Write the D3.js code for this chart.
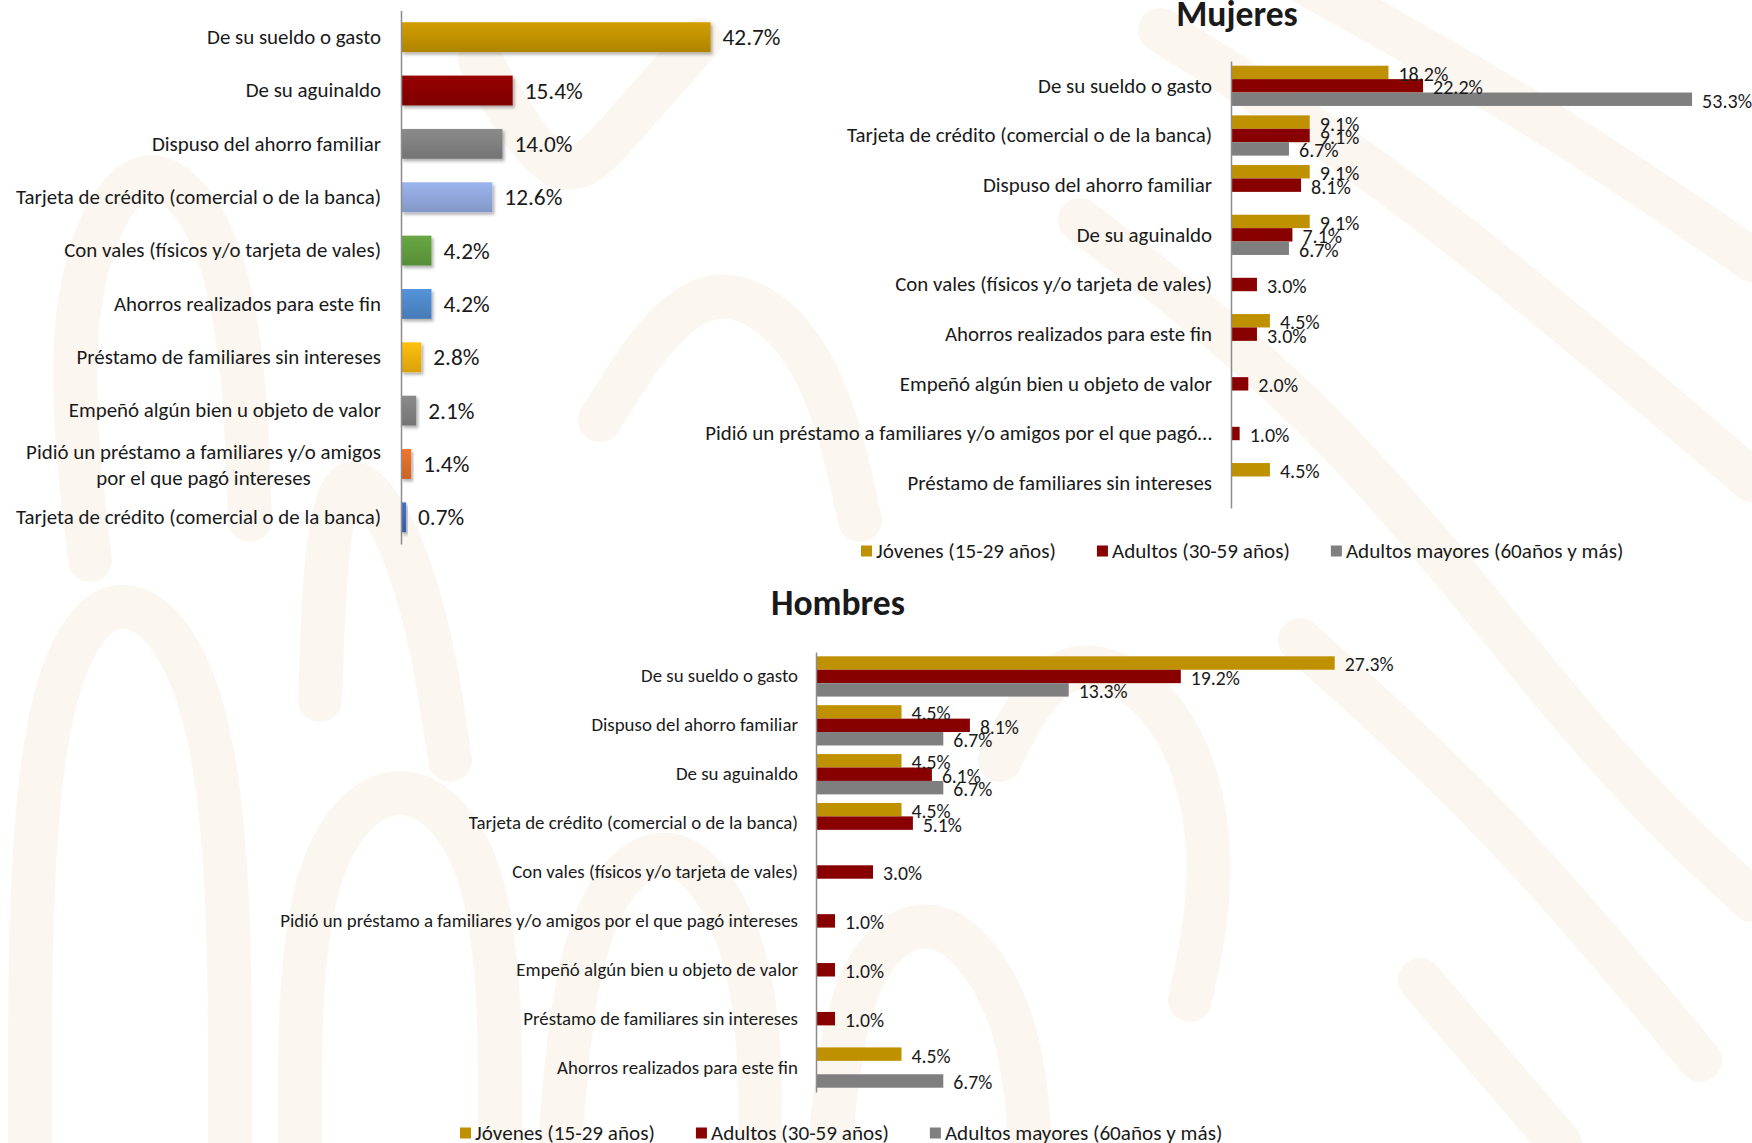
<!DOCTYPE html>
<html>
<head>
<meta charset="utf-8">
<script src="https://cdn.jsdelivr.net/npm/d3@7"></script>
<style>
  body { margin: 0; background: #fff; }
  text { font-family: Carlito, "Liberation Sans Narrow", Lato, sans-serif; fill: #1a1a1a; }
</style>
</head>
<body>
<div id="chart"></div>
<script>
const width = 1752;
const height = 1143;

// === Data ===
const totalCats = [
  "De su sueldo o gasto",
  "De su aguinaldo",
  "Dispuso del ahorro familiar",
  "Tarjeta de crédito (comercial o de la banca)",
  "Con vales (físicos y/o tarjeta de vales)",
  "Ahorros realizados para este fin",
  "Préstamo de familiares sin intereses",
  "Empeñó algún bien u objeto de valor",
  "Pidió un préstamo a familiares y/o amigos\npor el que pagó intereses",
  "Tarjeta de crédito (comercial o de la banca) "
];
const totalVals = [42.7, 15.4, 14.0, 12.6, 4.2, 4.2, 2.8, 2.1, 1.4, 0.7];
const totalColors = ["#BF9000", "#8B0000", "#7F7F7F", "#8FA5DA", "#5F9A3C", "#4D87C7", "#EEB010", "#7F7F7F", "#DD6C27", "#3B67BA"];

const ageGroups = ["Jóvenes (15-29 años)", "Adultos (30-59 años)", "Adultos mayores (60años y más)"];
const ageColors = ["#BF9000", "#880000", "#7F7F7F"];

const mujeresCats = [
  "De su sueldo o gasto",
  "Tarjeta de crédito (comercial o de la banca)",
  "Dispuso del ahorro familiar",
  "De su aguinaldo",
  "Con vales (físicos y/o tarjeta de vales)",
  "Ahorros realizados para este fin",
  "Empeñó algún bien u objeto de valor",
  "Pidió un préstamo a familiares y/o amigos por el que pagó…",
  "Préstamo de familiares sin intereses"
];
const mujeresJovenes = [18.2, 9.1, 9.1, 9.1, null, 4.5, null, null, 4.5];
const mujeresAdultos = [22.2, 9.1, 8.1, 7.1, 3.0, 3.0, 2.0, 1.0, null];
const mujeresMayores = [53.3, 6.7, null, 6.7, null, null, null, null, null];

const hombresCats = [
  "De su sueldo o gasto",
  "Dispuso del ahorro familiar",
  "De su aguinaldo",
  "Tarjeta de crédito (comercial o de la banca)",
  "Con vales (físicos y/o tarjeta de vales)",
  "Pidió un préstamo a familiares y/o amigos por el que pagó intereses",
  "Empeñó algún bien u objeto de valor",
  "Préstamo de familiares sin intereses",
  "Ahorros realizados para este fin"
];
const hombresJovenes = [27.3, 4.5, 4.5, 4.5, null, null, null, null, 4.5];
const hombresAdultos = [19.2, 8.1, 6.1, 5.1, 3.0, 1.0, 1.0, 1.0, null];
const hombresMayores = [13.3, 6.7, 6.7, null, null, null, null, null, 6.7];

const fmt = d => d3.format(".1f")(d) + "%";

const svg = d3.select("#chart")
  .append("svg")
  .attr("width", width)
  .attr("height", height);

const defs = svg.append("defs");

// faint watermark strokes in the slide background
const wmPaths = [
  [[30, 1143], [30, 700], [120, 560], [230, 700], [230, 1143]],
  [[300, 1143], [300, 860], [400, 760], [500, 860], [500, 1143]],
  [[90, 560], [60, 300], [140, 130], [240, 250], [250, 520]],
  [[320, 700], [330, 420], [420, 560], [450, 760]],
  [[560, 1143], [580, 900], [680, 820], [760, 960], [760, 1143]],
  [[830, 1143], [850, 960], [940, 900], [1020, 1010], [1030, 1143]],
  [[1000, 760], [1060, 640], [1180, 700], [1220, 860], [1190, 1000]],
  [[1160, 30], [1400, 180], [1752, 480]],
  [[1300, -20], [1550, 120], [1752, 260]],
  [[1080, 220], [1340, 420], [1600, 760], [1752, 900]],
  [[1300, 640], [1500, 820], [1700, 1060]],
  [[1420, 980], [1560, 1143]],
  [[600, 420], [700, 260], [820, 340], [860, 520]],
  [[480, 60], [560, 200], [620, 130], [700, 40]]
];
svg.append("g")
  .selectAll("path")
  .data(wmPaths)
  .join("path")
  .attr("d", d3.line().curve(d3.curveBasis))
  .attr("fill", "none")
  .attr("stroke", "#F7EFE4")
  .attr("stroke-width", 44)
  .attr("stroke-linecap", "round")
  .attr("opacity", 0.55);

// font size that makes a sample string a given width
function fitSize(sample, target, weight) {
  const t = svg.append("text").attr("font-size", 100).attr("font-weight", weight || 400).text(sample);
  const w = t.node().getComputedTextLength();
  t.remove();
  return 100 * target / w;
}

const catSize = fitSize("De su sueldo o gasto", 174);
const catSizeH = fitSize("De su sueldo o gasto", 157);
const valSize1 = fitSize("42.7%", 58);
const valSizeM = fitSize("53.3%", 50);
const valSizeH = fitSize("19.2%", 49);
const legSize = fitSize("Jóvenes (15-29 años)", 180);
const titleSize = fitSize("Hombres", 134, 700);

// gradients + shadow for the total chart
totalColors.forEach((c, i) => {
  const lg = defs.append("linearGradient")
    .attr("id", "grad" + i)
    .attr("x1", 0).attr("y1", 0).attr("x2", 0).attr("y2", 1);
  lg.append("stop").attr("offset", "0%").attr("stop-color", d3.color(c).brighter(0.25));
  lg.append("stop").attr("offset", "100%").attr("stop-color", d3.color(c).darker(0.25));
});
defs.append("filter").attr("id", "shadow")
  .attr("x", "-10%").attr("y", "-20%").attr("width", "130%").attr("height", "160%")
  .append("feDropShadow")
  .attr("dx", 2).attr("dy", 2.5).attr("stdDeviation", 1.5)
  .attr("flood-color", "#000").attr("flood-opacity", 0.3);

// === Total chart ===
const y1 = d3.scaleBand()
  .domain(totalCats)
  .range([10.5, 544])
  .paddingInner(0.44)
  .paddingOuter(0.22);
const x1 = d3.scaleLinear().domain([0, 50]).range([401, 401 + 362.5]);

const g1 = svg.append("g");

g1.selectAll("rect.bar")
  .data(totalVals)
  .join("rect")
  .attr("class", "bar")
  .attr("x", x1(0))
  .attr("y", (d, i) => y1(totalCats[i]))
  .attr("width", d => x1(d) - x1(0))
  .attr("height", y1.bandwidth())
  .attr("fill", (d, i) => `url(#grad${i})`)
  .attr("filter", "url(#shadow)");

g1.selectAll("text.val")
  .data(totalVals)
  .join("text")
  .attr("class", "val")
  .attr("x", d => x1(d) + 12)
  .attr("y", (d, i) => y1(totalCats[i]) + y1.bandwidth() / 2)
  .attr("dy", "0.35em")
  .attr("font-size", valSize1)
  .text(fmt);

const ax1 = g1.append("g")
  .attr("transform", `translate(${x1(0)},0)`)
  .call(d3.axisLeft(y1).tickSize(0).tickSizeOuter(0).tickPadding(20));
styleAxis(ax1, catSize);

// === Grouped charts ===
function groupedChart(cfg) {
  const g = svg.append("g");
  const y0 = d3.scaleBand()
    .domain(cfg.cats)
    .range([cfg.top, cfg.bottom])
    .paddingInner(cfg.pad)
    .paddingOuter(cfg.pad / 2);
  const ys = d3.scaleBand().domain(d3.range(cfg.series.length)).range([0, y0.bandwidth()]);
  const x = d3.scaleLinear().domain(cfg.domain).range([cfg.axisX, cfg.axisX + cfg.span]);

  const rows = cfg.cats.flatMap((c, i) =>
    cfg.series.map((s, j) => ({ cat: c, j, v: s[i] }))
  ).filter(d => d.v != null);

  g.selectAll("rect")
    .data(rows)
    .join("rect")
    .attr("x", x(0))
    .attr("y", d => y0(d.cat) + ys(d.j))
    .attr("width", d => x(d.v) - x(0))
    .attr("height", ys.bandwidth())
    .attr("fill", d => ageColors[d.j]);

  g.selectAll("text.val")
    .data(rows)
    .join("text")
    .attr("class", "val")
    .attr("x", d => x(d.v) + 10)
    .attr("y", d => y0(d.cat) + ys(d.j) + ys.bandwidth() / 2 + 1.5)
    .attr("dy", "0.35em")
    .attr("font-size", cfg.valSize)
    .text(d => fmt(d.v));

  const ax = g.append("g")
    .attr("transform", `translate(${x(0)},0)`)
    .call(d3.axisLeft(y0).tickSize(0).tickSizeOuter(0).tickPadding(cfg.labelPad));
  styleAxis(ax, cfg.catSize);

  g.append("text")
    .attr("x", cfg.titleX)
    .attr("y", cfg.titleY)
    .attr("text-anchor", "middle")
    .attr("font-weight", 700)
    .attr("font-size", titleSize)
    .text(cfg.title);

  // legend
  let lx = cfg.legendX;
  ageGroups.forEach((name, i) => {
    g.append("rect")
      .attr("x", lx).attr("y", cfg.legendY - 5.5)
      .attr("width", 11).attr("height", 11)
      .attr("fill", ageColors[i]);
    const t = g.append("text")
      .attr("x", lx + 15)
      .attr("y", cfg.legendY)
      .attr("dy", "0.35em")
      .attr("font-size", legSize)
      .text(name);
    lx += 15 + t.node().getComputedTextLength() + 41;
  });
}

function styleAxis(ax, size) {
  ax.select(".domain").attr("stroke", "#8c8c8c").attr("stroke-width", 1.5);
  ax.selectAll(".tick text")
    .attr("font-size", size)
    .attr("font-family", null)
    .attr("fill", "#1a1a1a")
    .each(function(d) {
      const lines = d.split("\n");
      if (lines.length < 2) return;
      const t = d3.select(this).text(null);
      const pad = +t.attr("x");
      const spans = lines.map((l, k) => t.append("tspan")
        .attr("dy", k === 0 ? "-0.25em" : "1.25em")
        .text(l));
      const w = d3.max(spans, s => s.node().getComputedTextLength());
      t.attr("text-anchor", "middle");
      spans.forEach(s => s.attr("x", pad - w / 2));
    });
  ax.attr("font-family", null);
}

groupedChart({
  title: "Mujeres", titleX: 1237, titleY: 26,
  cats: mujeresCats,
  series: [mujeresJovenes, mujeresAdultos, mujeresMayores],
  top: 61, bottom: 508, pad: 0.19,
  axisX: 1231, domain: [0, 60], span: 519,
  labelPad: 19, catSize: catSize, valSize: valSizeM,
  legendX: 861, legendY: 551
});

groupedChart({
  title: "Hombres", titleX: 838, titleY: 615,
  cats: hombresCats,
  series: [hombresJovenes, hombresAdultos, hombresMayores],
  top: 652, bottom: 1092, pad: 0.176,
  axisX: 816, domain: [0, 30], span: 570,
  labelPad: 18, catSize: catSizeH, valSize: valSizeH,
  legendX: 460, legendY: 1133
});
</script>
</body>
</html>
